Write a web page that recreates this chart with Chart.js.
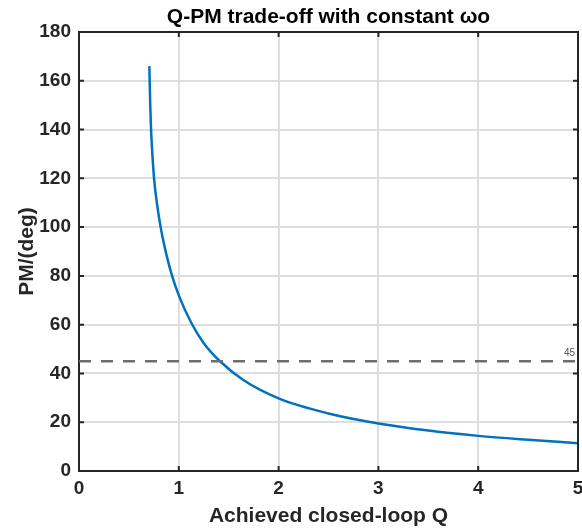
<!DOCTYPE html>
<html>
<head>
<meta charset="utf-8">
<script src="https://cdn.jsdelivr.net/npm/chart.js@4.4.0/dist/chart.umd.min.js"></script>
<style>
  html, body { margin: 0; padding: 0; background: #fff; }
  #wrap { width: 582px; height: 531px; }
</style>
</head>
<body>
<div id="wrap"><canvas id="qpmChart" width="582" height="531"></canvas></div>
<script>
// Values
const qValues = [0.705, 0.708, 0.714, 0.722, 0.735, 0.752, 0.78, 0.818, 0.845, 0.878, 0.929, 1.0, 1.122, 1.25, 1.413, 1.646, 2.0, 2.5, 3.0, 3.5, 4.0, 4.5, 5.0];
const pmValues = [166, 160, 150, 140, 130, 120, 110, 100, 94.4, 88.4, 80.5, 72, 61, 52.4, 45, 37.3, 29.8, 23.6, 19.5, 16.6, 14.4, 12.8, 11.4];
const refLevel = 45;
const xTicks = [0, 1, 2, 3, 4, 5];
const yTicks = [0, 20, 40, 60, 80, 100, 120, 140, 160, 180];

const FONT = '"Liberation Sans", Arial, Helvetica, sans-serif';
const AXIS_COLOR = '#262626';

const curvePoints = qValues.map((q, i) => ({ x: q, y: pmValues[i] }));
const refPoints = [{ x: xTicks[0], y: refLevel }, { x: xTicks[xTicks.length - 1], y: refLevel }];

// Box, inward ticks, title and the "45" label (MATLAB look)
const matlabFrame = {
    id: 'matlabFrame',
    afterDraw(chart) {
        const ctx = chart.ctx;
        const area = chart.chartArea;
        const xs = chart.scales.x;
        const ys = chart.scales.y;
        ctx.save();
        ctx.strokeStyle = AXIS_COLOR;
        ctx.lineWidth = 2;
        ctx.beginPath();
        xTicks.forEach(t => {
            const px = xs.getPixelForValue(t);
            ctx.moveTo(px, area.bottom);
            ctx.lineTo(px, area.bottom - 5);
            ctx.moveTo(px, area.top);
            ctx.lineTo(px, area.top + 5);
        });
        yTicks.forEach(t => {
            const py = ys.getPixelForValue(t);
            ctx.moveTo(area.left, py);
            ctx.lineTo(area.left + 5, py);
            ctx.moveTo(area.right, py);
            ctx.lineTo(area.right - 5, py);
        });
        ctx.stroke();
        ctx.beginPath();
        ctx.moveTo(area.left, area.top);
        ctx.lineTo(area.right, area.top);
        ctx.lineTo(area.right, area.bottom);
        ctx.stroke();

        // title
        ctx.fillStyle = '#000';
        ctx.font = 'bold 21px ' + FONT;
        ctx.textAlign = 'center';
        ctx.textBaseline = 'middle';
        ctx.fillText('Q-PM trade-off with constant ωo', (area.left + area.right) / 2, 17);

        // reference line label
        ctx.fillStyle = '#555';
        ctx.font = '10px ' + FONT;
        ctx.textAlign = 'right';
        ctx.textBaseline = 'bottom';
        ctx.fillText(String(refLevel), area.right - 3, ys.getPixelForValue(refLevel) - 3);
        ctx.restore();
    }
};

const ctx = document.getElementById('qpmChart').getContext('2d');
const chart = new Chart(ctx, {
    type: 'line',
    data: {
        datasets: [
            {
                data: refPoints,
                borderColor: '#6e6e6e',
                borderWidth: 2.5,
                borderDash: [12, 10],
                pointRadius: 0,
                fill: false
            },
            {
                data: curvePoints,
                borderColor: '#0072BD',
                borderWidth: 2.5,
                pointRadius: 0,
                cubicInterpolationMode: 'monotone',
                fill: false
            }
        ]
    },
    options: {
        responsive: false,
        animation: false,
        layout: { padding: { top: 32, right: 4, bottom: 0, left: 0 } },
        plugins: {
            legend: { display: false },
            title: { display: false },
            tooltip: { enabled: false }
        },
        scales: {
            x: {
                type: 'linear',
                min: 0,
                max: 5,
                afterFit: s => { s.height = 60; s.paddingLeft = 0; s.paddingRight = 0; },
                afterBuildTicks: s => { s.ticks = xTicks.map(v => ({ value: v })); },
                grid: { color: '#dedede', lineWidth: 2, drawTicks: false },
                border: { display: true, color: AXIS_COLOR, width: 2 },
                ticks: {
                    color: AXIS_COLOR,
                    padding: 6,
                    font: { family: FONT, size: 19, weight: 'bold' }
                },
                title: {
                    display: true,
                    text: 'Achieved closed-loop Q',
                    color: AXIS_COLOR,
                    padding: { top: 0, bottom: 2 },
                    font: { family: FONT, size: 21, weight: 'bold' }
                }
            },
            y: {
                min: 0,
                max: 180,
                afterFit: s => { s.width = 79; },
                afterBuildTicks: s => { s.ticks = yTicks.map(v => ({ value: v })); },
                grid: { color: '#dedede', lineWidth: 2, drawTicks: false },
                border: { display: true, color: AXIS_COLOR, width: 2 },
                ticks: {
                    color: AXIS_COLOR,
                    padding: 8,
                    font: { family: FONT, size: 19, weight: 'bold' }
                },
                title: {
                    display: true,
                    text: 'PM/(deg)',
                    color: AXIS_COLOR,
                    padding: { top: 15, bottom: 0 },
                    font: { family: FONT, size: 21, weight: 'bold' }
                }
            }
        }
    },
    plugins: [matlabFrame]
});
</script>
</body>
</html>
